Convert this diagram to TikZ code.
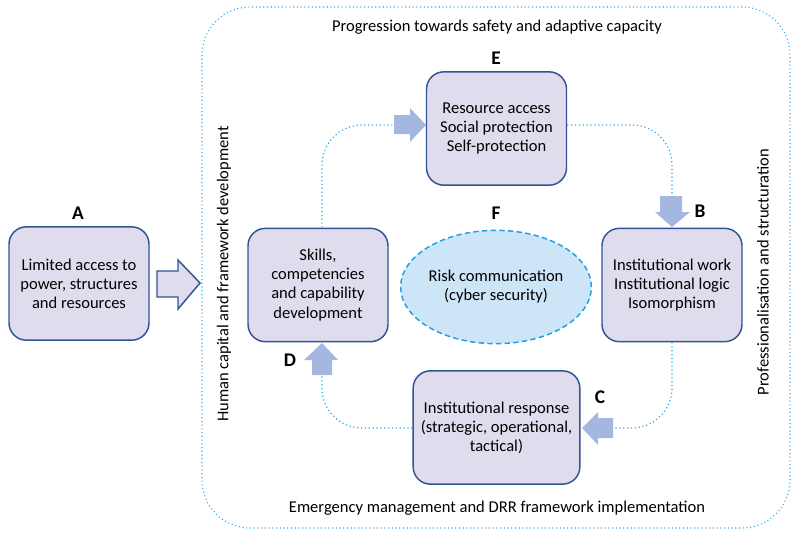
\documentclass[tikz,border=0pt]{standalone}
\usepackage{fontspec}
\setmainfont{Carlito}
\usepackage{tikz}
\usetikzlibrary{shapes.geometric}

\definecolor{boxfill}{RGB}{224,220,238}
\definecolor{boxline}{RGB}{47,85,151}
\definecolor{arrowfill}{RGB}{164,183,224}
\definecolor{dotline}{RGB}{40,172,232}
\definecolor{ovalfill}{RGB}{204,229,247}
\definecolor{ovalline}{RGB}{30,160,226}

\tikzset{
  stage/.style={draw=boxline, fill=boxfill, line width=1.1pt, rounded corners=13pt,
    minimum width=105pt, minimum height=85pt, align=center, inner sep=2pt,
    font=\fontsize{12.4}{14.3}\selectfont},
  letter/.style={font=\fontsize{14.5}{16}\selectfont\bfseries},
  sidetext/.style={font=\fontsize{12.4}{14.3}\selectfont},
  cycleline/.style={draw=dotline, dotted, line width=0.9pt, rounded corners=30pt},
  blockarrow/.style={fill=arrowfill}
}

\begin{document}
\begin{tikzpicture}[x=0.75pt, y=-0.75pt]
    \useasboundingbox (0,0) rectangle (796,537);

    % Outer frame
    \draw[dotline, dotted, line width=0.8pt, rounded corners=36pt] (202,7) rectangle (790,528);

    % Frame labels
    \node[sidetext] (top) at (497,27) {Progression towards safety and adaptive capacity};
    \node[sidetext] (bottom) at (497,508) {Emergency management and DRR framework implementation};
    \node[sidetext, rotate=90] (left) at (224,274) {Human capital and framework development};
    \node[sidetext, rotate=90] (right) at (763,272) {Professionalisation and structuration};

    % Stages
    \node[stage] (a) at (79,283.5) {Limited access to\\power, structures\\and resources};
    \node[stage] (skills) at (318,285) {Skills,\\competencies\\and capability\\development};
    \node[stage] (e) at (496.5,128.5) {Resource access\\Social protection\\Self-protection};
    \node[stage] (b) at (672,285) {Institutional work\\Institutional logic\\Isomorphism};
    \node[stage, minimum width=125pt] (c) at (496.5,427.5) {Institutional response\\(strategic, operational,\\tactical)};
    \node[ellipse, draw=ovalline, fill=ovalfill, dash pattern=on 4pt off 2.5pt, line width=1.1pt,
          minimum width=134pt, minimum height=85pt, inner sep=0pt, align=center,
          font=\fontsize{12.4}{14.3}\selectfont] (f) at (496,287)
          {Risk communication\\(cyber security)};

    % Letters
    \node[letter] (la) at (78,213) {A};
    \node[letter] (le) at (496,58) {E};
    \node[letter] (lb) at (700,211) {B};
    \node[letter] (lc) at (600,397) {C};
    \node[letter] (ld) at (290,360) {D};
    \node[letter] (lf) at (496,213) {F};

    % Arrow from A
    \draw[boxline, fill=boxfill, line width=1.1pt, line join=miter]
        (157,271) -- (178,271) -- (178,260) -- (200,283) -- (178,309) -- (178,297) -- (157,297) -- cycle;

    % Block arrows of the cycle
    \fill[blockarrow] (394,115) -- (410,115) -- (410,108) -- (426,125) -- (410,142) -- (410,134) -- (394,134) -- cycle;
    \coordinate (tailE) at (394,125);
    \fill[blockarrow] (660,196) -- (682,196) -- (682,212) -- (690,212) -- (672,227) -- (655,212) -- (660,212) -- cycle;
    \coordinate (tailB) at (672,196);
    \fill[blockarrow] (613,418) -- (598,418) -- (598,412) -- (582,428) -- (598,445) -- (598,438) -- (613,438) -- cycle;
    \coordinate (tailC) at (613,428);
    \fill[blockarrow] (312,375) -- (312,360) -- (304,360) -- (322,343) -- (338,360) -- (332,360) -- (332,375) -- cycle;
    \coordinate (tailD) at (322,375);

    % Dotted cycle
    \draw[cycleline] (skills.north -| 322,0) |- (tailE);
    \draw[cycleline] (e.east |- tailE) -| (tailB);
    \draw[cycleline] (b.south -| tailB) |- (tailC);
    \draw[cycleline] (c.west |- tailC) -| (tailD);
\end{tikzpicture}
\end{document}
